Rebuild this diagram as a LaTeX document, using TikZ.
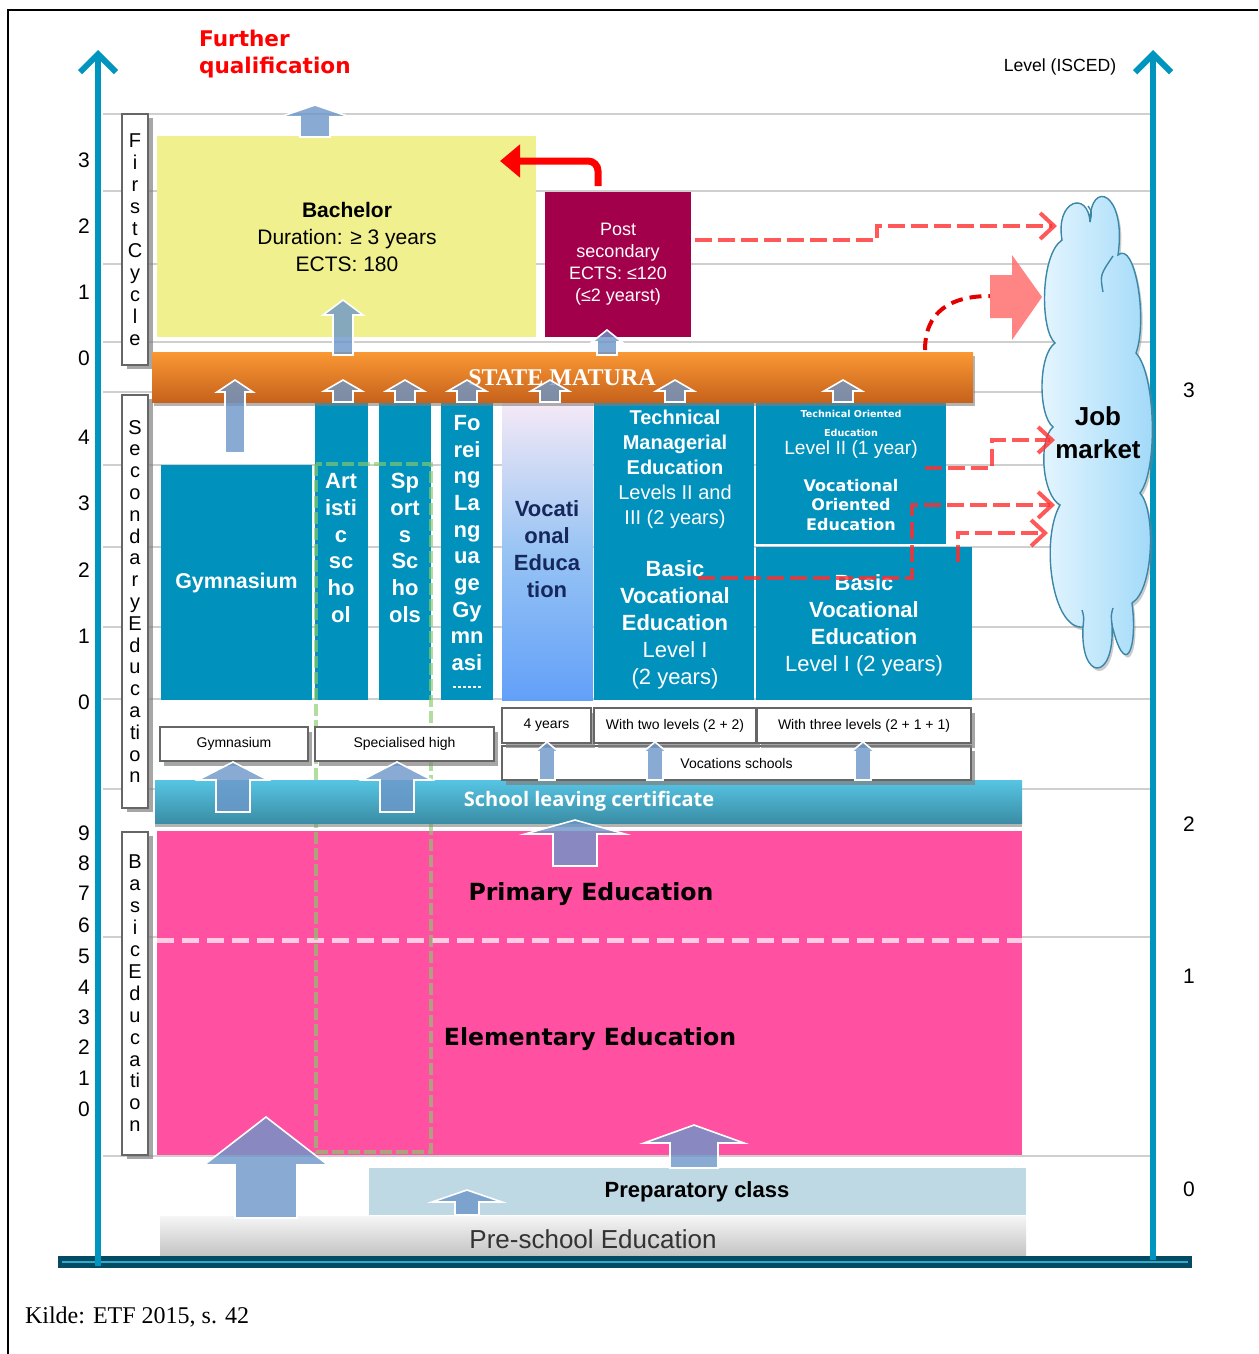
\documentclass[tikz,border=0pt]{standalone}
\usepackage{fontspec}
\setmainfont{Liberation Sans}
\newfontfamily\vfont{DejaVu Sans}
\newfontfamily\sfont{Liberation Serif}
\newfontfamily\ofont{Open Sans}
\usetikzlibrary{positioning}
\usetikzlibrary{shadows}
\usetikzlibrary{arrows.meta}

\definecolor{tealcol}{HTML}{0091BC}
\definecolor{axiscol}{HTML}{0095BE}
\definecolor{bachcol}{HTML}{F0F08E}
\definecolor{postcol}{HTML}{A3004B}
\definecolor{pinkcol}{HTML}{FF50A2}
\definecolor{prepcol}{HTML}{BED9E3}
\definecolor{arrcol}{HTML}{6C96C8}
\definecolor{dashred}{HTML}{FF2E2E}
\definecolor{gridcol}{HTML}{CFCFCF}
\definecolor{navycol}{HTML}{16275C}
\definecolor{barcol}{HTML}{034B62}
\definecolor{mattop}{HTML}{FA9834}
\definecolor{matbot}{HTML}{C7621C}
\definecolor{voctop}{HTML}{F5E9F6}
\definecolor{vocmid}{HTML}{98C4F4}
\definecolor{vocbot}{HTML}{62A0F8}
\definecolor{slctop}{HTML}{56C5E4}
\definecolor{slcbot}{HTML}{3B8DA5}
\definecolor{pretop}{HTML}{F5F5F5}
\definecolor{prebot}{HTML}{C3C3C3}
\definecolor{cloudl}{HTML}{E6F6FF}
\definecolor{cloudr}{HTML}{9ED8F8}
\definecolor{cloudline}{HTML}{3C87A8}
\definecolor{greencol}{HTML}{86CC6A}
\definecolor{pinkline}{HTML}{FFCCE4}
\definecolor{bigpinkcol}{HTML}{FF6F6F}
\definecolor{darktext}{HTML}{333333}

\newcommand{\fs}[2]{\fontsize{#1}{#2}\selectfont}
% box given by its corners in pixels
\newcommand{\pxbox}[7]{%
  \node[#2, minimum width={(#5-#3)*0.5pt}, minimum height={(#6-#4)*0.5pt}] (#1) at ({(#3+#5)/2},{(#4+#6)/2}) {#7};}
% block arrow: x, bottom, top, head half width, shaft half width, head height
\newcommand{\uparr}[6]{%
  \filldraw[uparrow] ({#1-#5},#2) -- ({#1-#5},{#3+#6}) -- ({#1-#4},{#3+#6}) -- (#1,#3)
    -- ({#1+#4},{#3+#6}) -- ({#1+#5},{#3+#6}) -- ({#1+#5},#2) -- cycle;}

\begin{document}
\begin{tikzpicture}[x=0.5pt,y=-0.5pt,
  box/.style={inner sep=0pt,outer sep=0pt,align=center},
  colbox/.style={box,fill=tealcol},
  sidebox/.style={box,draw=gray!80!black,fill=white,line width=0.6pt,
    drop shadow={shadow xshift=2.5pt,shadow yshift=-2pt,fill=gray,opacity=0.7}},
  labelbox/.style={box,draw=gray!80!black,fill=white,line width=0.6pt,font=\fs{7}{8},
    drop shadow={shadow xshift=2pt,shadow yshift=-2.5pt,fill=gray,opacity=0.7}},
  coltext/.style={align=center,text=white,font=\bfseries\fs{11}{13.4}},
  lvl/.style={inner sep=0pt,font=\fs{10.5}{12}},
  uparrow/.style={fill=arrcol,fill opacity=0.8,draw=white,line width=0.8pt},
  jobline/.style={draw=dashred,draw opacity=0.8,line width=2pt,dash pattern=on 8.5pt off 3pt,
    -{Straight Barb[length=7pt,width=13pt]}},
  curveline/.style={draw=red!90!black,line width=2pt,dash pattern=on 6pt off 3.5pt},
  redbend/.style={draw=red,line width=3.5pt,rounded corners=5pt,-{Triangle[length=10pt,width=16pt]}},
  axisline/.style={draw=axiscol,line width=3pt,-{Straight Barb[length=9pt,width=18pt]}},
  gridline/.style={draw=gridcol,line width=0.8pt},
  greendash/.style={draw=greencol,draw opacity=0.65,line width=2pt,dash pattern=on 6pt off 2pt},
  pinkdash/.style={draw=pinkline,line width=2.5pt,dash pattern=on 8.5pt off 4pt},
  cloudfill/.style={draw=cloudline,line width=0.7pt,left color=cloudl,right color=cloudr,
    drop shadow={shadow xshift=1pt,shadow yshift=-1.5pt,fill=gray,opacity=0.4}},
]
\useasboundingbox (0,0) rectangle (1258,1354);
\draw[line width=1pt] (8,1354) -- (8,10) -- (1258,10);

% grid of levels
\foreach \gy in {114,191,264,342,392,465,547,627,699,789,937,1156}
  \draw[gridline] (103,\gy) -- (1150,\gy);

% side labels
\pxbox{cyc}{sidebox,font=\fs{10}{11}}{122}{114}{148}{365}{F\\i\\r\\s\\t\\C\\y\\c\\l\\e}
\pxbox{sec}{sidebox,font=\fs{10}{10.9}}{122}{395}{148}{808}{S\\e\\c\\o\\n\\d\\a\\r\\y\\E\\d\\u\\c\\a\\ti\\o\\n}
\pxbox{bas}{sidebox,font=\fs{10}{10.95}}{122}{832}{148}{1155}{B\\a\\s\\i\\c\\E\\d\\u\\c\\a\\ti\\o\\n}
\foreach \n/\ly [count=\k] in {3/160,2/226,1/292,0/358,4/437,3/503,2/570,1/636,0/702,
    9/833,8/863,7/893,6/925,5/956,4/987,3/1017,2/1047,1/1078,0/1109}
  \node[lvl] (lvl\k) at (84,\ly) {\n};
\foreach \n/\ly in {3/390,2/824,1/976,0/1189}
  \node[lvl] (isced\n) at (1189,\ly) {\n};

% first cycle
\pxbox{bach}{box,fill=bachcol}{157}{136}{536}{337}{}
\node[font=\fs{10.5}{13.5},align=center] (bachtxt) at (347,237) {\textbf{Bachelor}\\Duration: ≥ 3 years\\ECTS: 180};
\pxbox{post}{box,fill=postcol,text=white,font=\fs{9}{11}}{545}{192}{691}{337}{Post\\secondary\\ECTS: ≤120\\(≤2 yearst)}

% secondary columns
\pxbox{gym}{colbox,text=white,font=\bfseries\fs{10.7}{12}}{161}{465}{312}{700}{Gymnasium}
\pxbox{art}{colbox}{315}{402}{368}{700}{}
\node[coltext] (arttxt) at (341,548) {Art\\isti\\c\\sc\\ho\\ol};
\pxbox{sport}{colbox}{379}{402}{431}{700}{}
\node[coltext] (sporttxt) at (405,548) {Sp\\ort\\s\\Sc\\ho\\ols};
\pxbox{lang}{colbox}{441}{402}{493}{700}{}
\node[coltext,font=\bfseries\fs{11}{13.35}] (langtxt) at (467,543) {Fo\\rei\\ng\\La\\ng\\ua\\ge\\Gy\\mn\\asi};
\draw[white,line width=0.6pt,dash pattern=on 1.5pt off 1pt] (lang.south west) ++(12,-13) -- ++(30,0);
\pxbox{voc}{box,top color=voctop,bottom color=vocbot,middle color=vocmid}{502}{402}{593}{700}{}
\node[coltext,text=navycol] (voctxt) at (547,549) {Vocati\\onal\\Educa\\tion};
\pxbox{tech}{colbox}{594}{402}{754}{700}{}
\node[align=center,text=white,font=\fs{10}{12.5}] (techtop) at (675,469)
  {\textbf{Technical}\\\textbf{Managerial}\\\textbf{Education}\\Levels II and\\III (2 years)};
\node[align=center,text=white,font=\fs{11}{13.5}] (techbot) at (675,625)
  {\textbf{Basic}\\\textbf{Vocational}\\\textbf{Education}\\Level I\\(2 years)};
\pxbox{orient}{colbox}{756}{402}{946}{544}{}
\node[align=center,text=white,font=\vfont\bfseries\fs{4.8}{9.5}] (orienttop) at (851,423.5) {Technical Oriented\\Education};
\node[text=white,font=\fs{9.6}{11}] (orientlvl) at (851,450) {Level II (1 year)};
\node[align=center,text=white,font=\vfont\bfseries\fs{8}{9.75}] (orientvoc) at (851,505) {Vocational\\Oriented\\Education};
\pxbox{basicvoc}{colbox}{756}{547}{972}{700}{}
\node[align=center,text=white,font=\fs{11}{13.5}] (basictxt) at (864,625.5)
  {\textbf{Basic}\\\textbf{Vocational}\\\textbf{Education}\\Level I (2 years)};

% state matura
\pxbox{matura}{box,top color=mattop,bottom color=matbot,
  drop shadow={shadow xshift=1pt,shadow yshift=-2pt,fill=gray,opacity=0.6}}{152}{352}{973}{402}{}
\node[font=\sfont\bfseries\fs{12}{14},text=white] (maturatxt) at (562,378) {STATE MATURA};

% basic education
\pxbox{basicedu}{box,fill=pinkcol}{157}{831}{1022}{1155}{}
\draw[pinkdash] (basicedu.west |- 0,940) -- (basicedu.east |- 0,940);
\node[font=\vfont\bfseries\fs{11.8}{14}] (primtxt) at (591,894) {Primary Education};
\node[font=\vfont\bfseries\fs{11.8}{14}] (elemtxt) at (590,1039) {Elementary Education};
\draw[greendash] (316,464) rectangle (431,1152);

% school leaving certificate
\pxbox{slc}{box,top color=slctop,bottom color=slcbot,
  drop shadow={shadow xshift=0pt,shadow yshift=-2pt,fill=gray,opacity=0.6}}{155}{780}{1022}{823}{}
\node[font=\ofont\bfseries\fs{10}{12},text=white] (slctxt) at (589,801) {School leaving certificate};

% label row
\pxbox{voclab}{labelbox}{502}{746}{971}{780}{Vocations schools}
\pxbox{gymlab}{labelbox}{160}{727}{308}{761}{Gymnasium}
\pxbox{speclab}{labelbox}{315}{727}{494}{761}{Specialised high}
\pxbox{fourlab}{labelbox}{502}{708}{591}{743}{4 years}
\pxbox{twolab}{labelbox}{594}{708}{756}{743}{With two levels (2 + 2)}
\pxbox{threelab}{labelbox}{757}{708}{971}{743}{With three levels (2 + 1 + 1)}

% pre-school
\pxbox{prep}{box,fill=prepcol}{369}{1168}{1026}{1215}{}
\node[font=\bfseries\fs{11}{13}] (preptxt) at (697,1192) {Preparatory class};
\pxbox{presch}{box,top color=pretop,bottom color=prebot}{160}{1216}{1026}{1256}{}
\node[text=darktext,font=\fs{13}{15}] (preschtxt) at (593,1239) {Pre-school Education};

% axes
\fill[barcol] (58,1256) rectangle (1192,1268);
\draw[axiscol!80!white,line width=0.7pt] (62,1262) -- (1188,1262);
\coordinate (laxb) at (98,1266);
\coordinate (laxt) at (98,50);
\draw[axisline] (laxb) -- (laxt);
\coordinate (raxb) at (1153,1260);
\coordinate (raxt) at (1153,50);
\draw[axisline] (raxb) -- (raxt);

% blue arrows
\uparr{315}{137}{105}{35}{15}{12}
\uparr{343}{355}{300}{20}{10}{15}
\uparr{607}{355}{330}{15}{10}{12}
\foreach \ax in {343,405,467,550,675,843} {
  \uparr{\ax}{402}{380}{19}{10}{11}
}
\uparr{235}{453}{380}{18}{10}{12}
\uparr{233}{812}{762}{35}{17}{18}
\uparr{397}{812}{762}{35}{17}{18}
\foreach \ax in {547,655,863} {
  \uparr{\ax}{780}{742}{12}{8}{10}
}
\uparr{575}{866}{820}{50}{22}{14}
\uparr{266}{1218}{1117}{62}{31}{48}
\uparr{694}{1168}{1125}{50}{24}{18}
\uparr{467}{1215}{1190}{35}{12}{12}

% job market cloud
\coordinate (c1) at (1090,222);
\coordinate (c2) at (1118,255);
\coordinate (c3) at (1136,353);
\coordinate (c4) at (1140,493);
\coordinate (c5) at (1132,603);
\coordinate (c6) at (1112,625);
\coordinate (c7) at (1083,627);
\coordinate (c8) at (1060,505);
\coordinate (c9) at (1053,427);
\coordinate (c10) at (1055,343);
\coordinate (c11) at (1062,240);
\filldraw[cloudfill] (c11) .. controls (1055,200) and (1088,190) .. (c1)
  .. controls (1090,178) and (1127,192) .. (c2)
  .. controls (1135,240) and (1148,320) .. (c3)
  .. controls (1156,375) and (1158,470) .. (c4)
  .. controls (1156,510) and (1154,590) .. (c5)
  .. controls (1138,650) and (1125,680) .. (c6)
  .. controls (1115,682) and (1080,682) .. (c7)
  .. controls (1052,630) and (1040,540) .. (c8)
  .. controls (1042,495) and (1038,440) .. (c9)
  .. controls (1038,415) and (1038,355) .. (c10)
  .. controls (1040,330) and (1040,255) .. (c11) -- cycle;
\draw[cloudline,line width=0.7pt] (1103,292) .. controls (1100,275) .. (1113,256);
\draw[cloudline,line width=0.7pt] (c1) .. controls (1092,212) .. (1088,206);
\draw[cloudline,line width=0.7pt] (c6) .. controls (1111,615) .. (1113,608);
\draw[cloudline,line width=0.7pt] (c7) .. controls (1084,617) .. (1082,610);
\node[font=\bfseries\fs{13}{16.5},align=center] (jobtxt) at (1098,433) {Job\\market};

% red connections
\coordinate (psup) at (598,186);
\coordinate (bachin) at (500,161);
\draw[redbend] (psup) |- (bachin);
\coordinate (psout) at (695,240);
\coordinate (job1) at (1057,226);
\draw[jobline] (psout) -- ++(182,0) |- (job1);
\coordinate (curvs) at (925,350);
\coordinate (curve) at (990,296);
\draw[curveline] (curvs) .. controls (925,312) and (950,296) .. (curve);
\fill[bigpinkcol,opacity=0.85] (990,275) -- (1012,275) -- (1012,255) -- (1042,297)
  -- (1012,340) -- (1012,318) -- (990,318) -- cycle;
\coordinate (or1) at (925,468);
\coordinate (job2) at (1055,440);
\draw[jobline] (or1) -- ++(67,0) |- (job2);
\coordinate (tb1) at (698,578);
\coordinate (job3) at (1055,505);
\draw[jobline] (tb1) -- ++(214,0) |- (job3);
\coordinate (bs1) at (958,562);
\coordinate (job4) at (1048,533);
\draw[jobline] (bs1) |- (job4);

% titles
\node[anchor=west,align=left,text=red,font=\vfont\bfseries\fs{10.8}{13.5}] (further) at (192,54) {Further\\qualification};
\node[font=\fs{8.8}{10}] (isced) at (1060,67) {Level (ISCED)};
\node[anchor=west,font=\sfont\fs{12}{14}] (src) at (18,1317) {Kilde: ETF 2015, s. 42};
\end{tikzpicture}
\end{document}
